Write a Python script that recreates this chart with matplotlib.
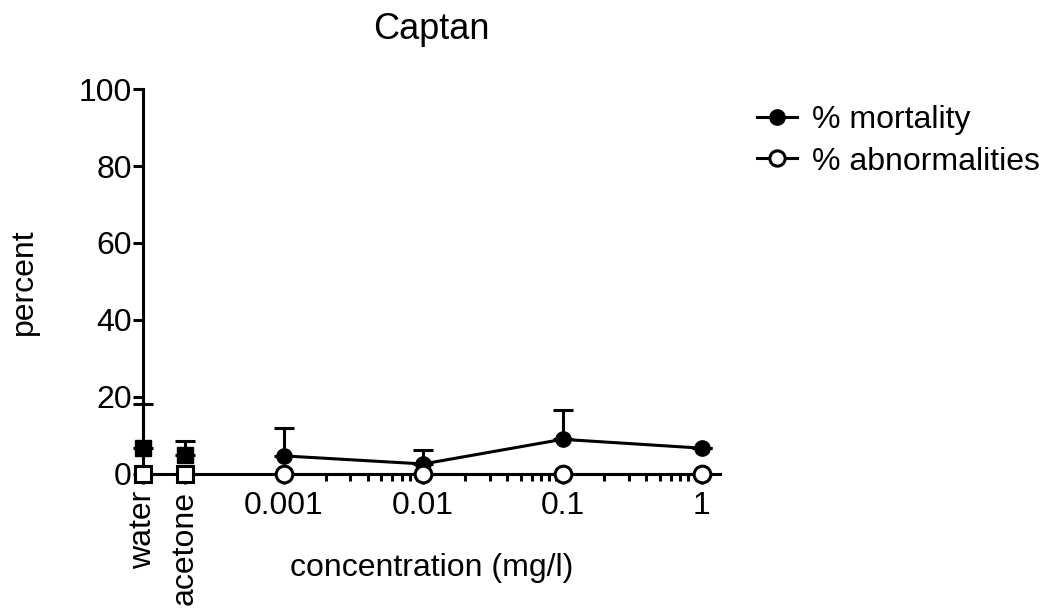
import numpy as np
import matplotlib
matplotlib.use('Agg')
import matplotlib.pyplot as plt
from matplotlib.lines import Line2D

plt.rcParams['font.family'] = ['Liberation Sans', 'DejaVu Sans']

# 数据
controls = ['water', 'acetone']
ctrl_mort = [6.8, 5.0]
ctrl_mort_err = [11.5, 3.5]
ctrl_abn = [0, 0]

conc = [0.001, 0.01, 0.1, 1]
conc_labels = ['0.001', '0.01', '0.1', '1']
mort = [4.7, 2.6, 9.0, 6.7]
mort_err = [7.3, 3.6, 7.6, 0]
abn = [0, 0, 0, 0]

# 对照组在x轴上的位置（对数坐标的十进制单位）
ctrl_x = [-4.01, -3.71]
lx = np.log10(conc)

fig = plt.figure(figsize=(10.55, 6.13), dpi=100)
ax = fig.add_axes([0.1355, 0.2268, 0.547, 0.628])

lw = 2.2
ms = 11
fs = 23

# 对照组
ax.errorbar(ctrl_x, ctrl_mort, yerr=[[0, 0], ctrl_mort_err], fmt='s', color='black',
            ms=ms, elinewidth=lw, capsize=7, capthick=lw, clip_on=False, zorder=3)
ax.plot(ctrl_x, ctrl_abn, 's', color='black', mfc='white', mew=lw, ms=ms + 1,
        clip_on=False, zorder=4)

# 浓度组
ax.errorbar(lx, mort, yerr=[[0] * 4, mort_err], fmt='o-', color='black', lw=lw,
            ms=ms, elinewidth=lw, capsize=7, capthick=lw, clip_on=False, zorder=3)
ax.plot(lx, abn, 'o-', color='black', mfc='white', mew=lw, lw=lw, ms=ms + 1,
        clip_on=False, zorder=4)

ax.set_xlim(ctrl_x[0], 0.13)
ax.set_ylim(0, 100)
ax.spines['top'].set_visible(False)
ax.spines['right'].set_visible(False)
for s in ['left', 'bottom']:
    ax.spines[s].set_linewidth(lw)

ax.set_yticks([0, 20, 40, 60, 80, 100])
ax.tick_params(axis='y', labelsize=fs, width=lw, length=7, pad=1)

ax.set_xticks(list(ctrl_x) + list(lx))
ax.set_xticklabels(controls + conc_labels)
ax.tick_params(axis='x', labelsize=fs, width=lw, length=7, pad=5)
for i, t in enumerate(ax.get_xticklabels()):
    if i < 2:
        t.set_rotation(90)
        t.set_va('top')

minor = [np.log10(k * 10.0 ** d) for d in range(-3, 0) for k in range(2, 10)]
ax.set_xticks(minor, minor=True)
ax.tick_params(axis='x', which='minor', width=lw, length=5)

ax.set_ylabel('percent', fontsize=fs)
ax.yaxis.set_label_coords(-0.18, 0.5)
ax.set_xlabel('concentration (mg/l)', fontsize=fs)
ax.xaxis.set_label_coords(0.5, -0.205)
ax.set_title('Captan', fontsize=26, pad=36)

handles = [
    Line2D([], [], color='black', lw=lw, marker='o', ms=ms),
    Line2D([], [], color='black', lw=lw, marker='o', ms=ms, mfc='white', mew=lw),
]
fig.legend(handles, ['% mortality', '% abnormalities'], loc='upper left',
           bbox_to_anchor=(0.69, 0.875), frameon=False, fontsize=fs,
           handlelength=1.25, handletextpad=0.47, labelspacing=0.35)

fig.savefig('out.png', dpi=100)
